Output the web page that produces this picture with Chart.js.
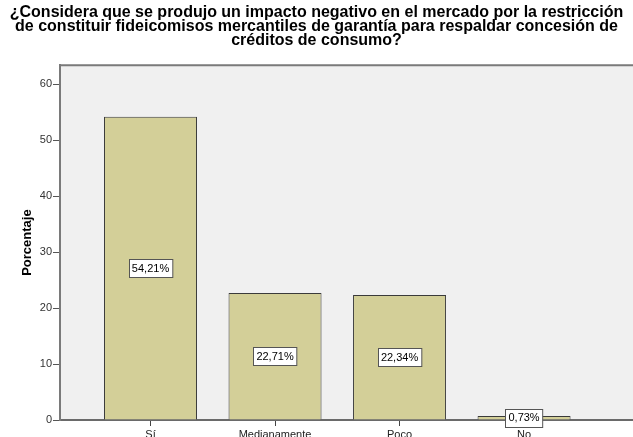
<!DOCTYPE html>
<html>
<head>
<meta charset="utf-8">
<script src="https://cdn.jsdelivr.net/npm/chart.js@4/dist/chart.umd.min.js"></script>
<style>
  html, body { margin: 0; padding: 0; background: #ffffff; overflow: hidden; }
  #wrap { width: 633px; height: 446px; }
</style>
</head>
<body>
<div id="wrap"><canvas id="c" width="633" height="446"></canvas></div>
<script>
// Survey answers and their share of respondents (%)
const categories = ['Sí', 'Medianamente', 'Poco', 'No'];
const percentages = [54.21, 22.71, 22.34, 0.73];
const yTicks = [0, 10, 20, 30, 40, 50, 60];
const titleLines = [
  '¿Considera que se produjo un impacto negativo en el mercado por la restricción',
  'de constituir fideicomisos mercantiles de garantía para respaldar concesión de',
  'créditos de consumo?'
];

const FONT = "'Liberation Sans', Arial, sans-serif";

// Plot panel background and frame
const panelPlugin = {
  id: 'panel',
  beforeDraw(chart) {
    const { ctx, chartArea: a } = chart;
    ctx.save();
    ctx.fillStyle = '#f0f0f0';
    ctx.fillRect(a.left, a.top, a.right - a.left, a.bottom - a.top);
    ctx.strokeStyle = '#7a7a7a';
    ctx.lineWidth = 2;
    ctx.beginPath();
    ctx.moveTo(a.left, a.bottom);
    ctx.lineTo(a.left, a.top);
    ctx.lineTo(a.right, a.top);
    ctx.stroke();
    ctx.restore();
  }
};

// Boxed percentage labels placed halfway up each bar
const valueBoxPlugin = {
  id: 'valueBox',
  afterDatasetsDraw(chart) {
    const { ctx } = chart;
    const meta = chart.getDatasetMeta(0);
    ctx.save();
    ctx.font = '11px ' + FONT;
    ctx.textAlign = 'center';
    ctx.textBaseline = 'middle';
    meta.data.forEach((bar, i) => {
      const p = bar.getProps(['x', 'y', 'base'], true);
      const cy = (p.y + p.base) / 2;
      const txt = percentages[i].toFixed(2).replace('.', ',') + '%';
      const w = ctx.measureText(txt).width + 6;
      const h = 18;
      const x0 = Math.round(p.x - w / 2) + 0.5;
      const y0 = Math.round(cy - h / 2) + 0.5;
      ctx.fillStyle = '#ffffff';
      ctx.fillRect(x0, y0, w, h);
      ctx.strokeStyle = '#555555';
      ctx.lineWidth = 1;
      ctx.strokeRect(x0, y0, w, h);
      ctx.fillStyle = '#000000';
      ctx.fillText(txt, p.x, cy + 0.5);
    });
    ctx.restore();
  }
};

new Chart(document.getElementById('c'), {
  type: 'bar',
  data: {
    datasets: [{
      data: categories.map((c, i) => ({ x: i, y: percentages[i] })),
      backgroundColor: '#d3cf98',
      borderColor: '#3a3a3a',
      borderWidth: 1,
      barPercentage: 0.747,
      categoryPercentage: 1
    }]
  },
  options: {
    responsive: false,
    animation: false,
    layout: { padding: { left: 0, right: 0, top: 0, bottom: 0 } },
    plugins: {
      legend: { display: false },
      tooltip: { enabled: false },
      title: {
        display: true,
        text: titleLines,
        color: '#000000',
        font: { family: FONT, size: 16, weight: 'bold', lineHeight: 0.9 },
        padding: { top: 5, bottom: 17 }
      }
    },
    scales: {
      x: {
        type: 'linear',
        offset: false,
        min: -0.727,
        max: 3.875,
        afterBuildTicks(scale) {
          scale.ticks = categories.map((c, i) => ({ value: i }));
        },
        afterFit(scale) { scale.height = 26; },
        ticks: {
          autoSkip: false,
          maxRotation: 0,
          padding: 2,
          color: '#222222',
          font: { family: FONT, size: 11 },
          callback: (v) => categories[v]
        },
        grid: { offset: false, drawOnChartArea: false, drawTicks: true, tickLength: 6, color: '#444444' },
        border: { display: true, color: '#6a6a6a', width: 2 }
      },
      y: {
        min: 0,
        max: 63.4,
        afterBuildTicks(scale) {
          scale.ticks = yTicks.map(v => ({ value: v }));
        },
        afterFit(scale) { scale.width = 60; },
        ticks: {
          padding: 1,
          color: '#333333',
          font: { family: FONT, size: 11 }
        },
        grid: { drawOnChartArea: false, drawTicks: true, tickLength: 7, color: '#555555' },
        border: { display: true, color: '#7a7a7a', width: 2 },
        title: {
          display: true,
          text: 'Porcentaje',
          color: '#000000',
          font: { family: FONT, size: 13, weight: 'bold' },
          padding: { top: 20, bottom: 0 }
        }
      }
    }
  },
  plugins: [panelPlugin, valueBoxPlugin]
});
</script>
</body>
</html>
